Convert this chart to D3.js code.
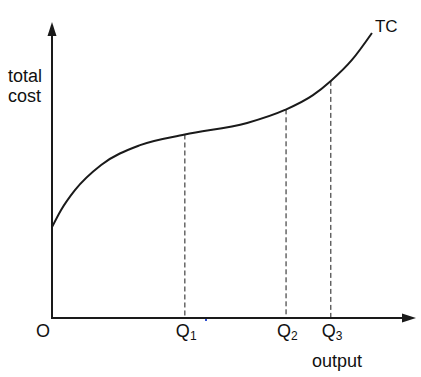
<!DOCTYPE html>
<html>
<head>
<meta charset="utf-8">
<script src="https://cdn.jsdelivr.net/npm/d3@7"></script>
<style>
  body { margin: 0; background: #fff; }
  text { font-family: "Liberation Sans", Arial, sans-serif; fill: #111; }
</style>
</head>
<body>
<div id="plot"></div>
<script>
// total cost curve (output 0-10, cost 0-10)
const tcOutput = [0, 0.25, 0.63, 1.35, 2.42, 3.65, 5.36, 6.40, 7.17, 7.66, 8.24, 8.79];
const tcCost   = [3.07, 3.65, 4.32, 5.17, 5.84, 6.20, 6.59, 7.03, 7.53, 8.01, 8.72, 9.63];

// marked output levels and the cost on the curve there
const qLabels = ["1", "2", "3"];
const qOutput = [3.65, 6.43, 7.66];
const qCost   = [6.20, 7.05, 8.01];

window.addEventListener("load", main)

function main(){
  const width = 421, height = 377;
  const svg = d3.select("#plot").append("svg")
    .attr("width", width)
    .attr("height", height);

  const x = d3.scaleLinear().domain([0, 10]).range([52, 416]);
  const y = d3.scaleLinear().domain([0, 10]).range([318, 22]);
  const ink = "#1a1a1a";

  // dashed drop lines
  svg.append("g")
    .selectAll("line")
    .data(qOutput)
    .join("line")
      .attr("x1", d => x(d)).attr("x2", d => x(d))
      .attr("y1", (d, i) => y(qCost[i])).attr("y2", y(0))
      .attr("stroke", ink)
      .attr("stroke-width", 1)
      .attr("stroke-dasharray", "5,3");

  // axes with arrow heads
  const axes = svg.append("g");
  axes.append("path")
    .attr("d", `M${x(0)},${y(0)}H${x(10) - 12}M${x(0)},${y(0)}V${y(10) + 12}`)
    .attr("fill", "none")
    .attr("stroke", ink)
    .attr("stroke-width", 2)
    .attr("stroke-linecap", "square");
  axes.append("path")
    .attr("d", `M${x(10)},${y(0)}L${x(10) - 14},${y(0) - 4.5}L${x(10) - 14},${y(0) + 4.5}Z`)
    .attr("fill", ink);
  axes.append("path")
    .attr("d", `M${x(0)},${y(10)}L${x(0) - 4.5},${y(10) + 14}L${x(0) + 4.5},${y(10) + 14}Z`)
    .attr("fill", ink);

  // TC curve
  const line = d3.line()
    .x(d => x(d[0]))
    .y(d => y(d[1]))
    .curve(d3.curveMonotoneX);
  svg.append("path")
    .datum(d3.zip(tcOutput, tcCost))
    .attr("d", line)
    .attr("fill", "none")
    .attr("stroke", ink)
    .attr("stroke-width", 2);

  // labels
  const last = tcOutput.length - 1;
  svg.append("text")
    .attr("x", x(tcOutput[last]) + 3).attr("y", y(tcCost[last]) - 1)
    .attr("font-size", 17)
    .text("TC");

  svg.append("text")
    .attr("x", 8).attr("y", 82)
    .attr("font-size", 18)
    .text("total");
  svg.append("text")
    .attr("x", 8).attr("y", 102)
    .attr("font-size", 18)
    .text("cost");

  svg.append("text")
    .attr("x", 36).attr("y", 337)
    .attr("font-size", 18)
    .text("O");

  const q = svg.append("g")
    .selectAll("text")
    .data(qOutput)
    .join("text")
      .attr("x", d => x(d) - 9)
      .attr("y", 337)
      .attr("font-size", 18);
  q.append("tspan").text("Q");
  q.append("tspan")
    .attr("font-size", 12)
    .attr("dy", 3)
    .text((d, i) => qLabels[i]);

  svg.append("text")
    .attr("x", 312).attr("y", 367)
    .attr("font-size", 18)
    .text("output");

  // stray blue speck in the original
  svg.append("rect")
    .attr("x", 205).attr("y", 319)
    .attr("width", 2).attr("height", 2)
    .attr("fill", "#3050d0");
}
</script>
</body>
</html>
